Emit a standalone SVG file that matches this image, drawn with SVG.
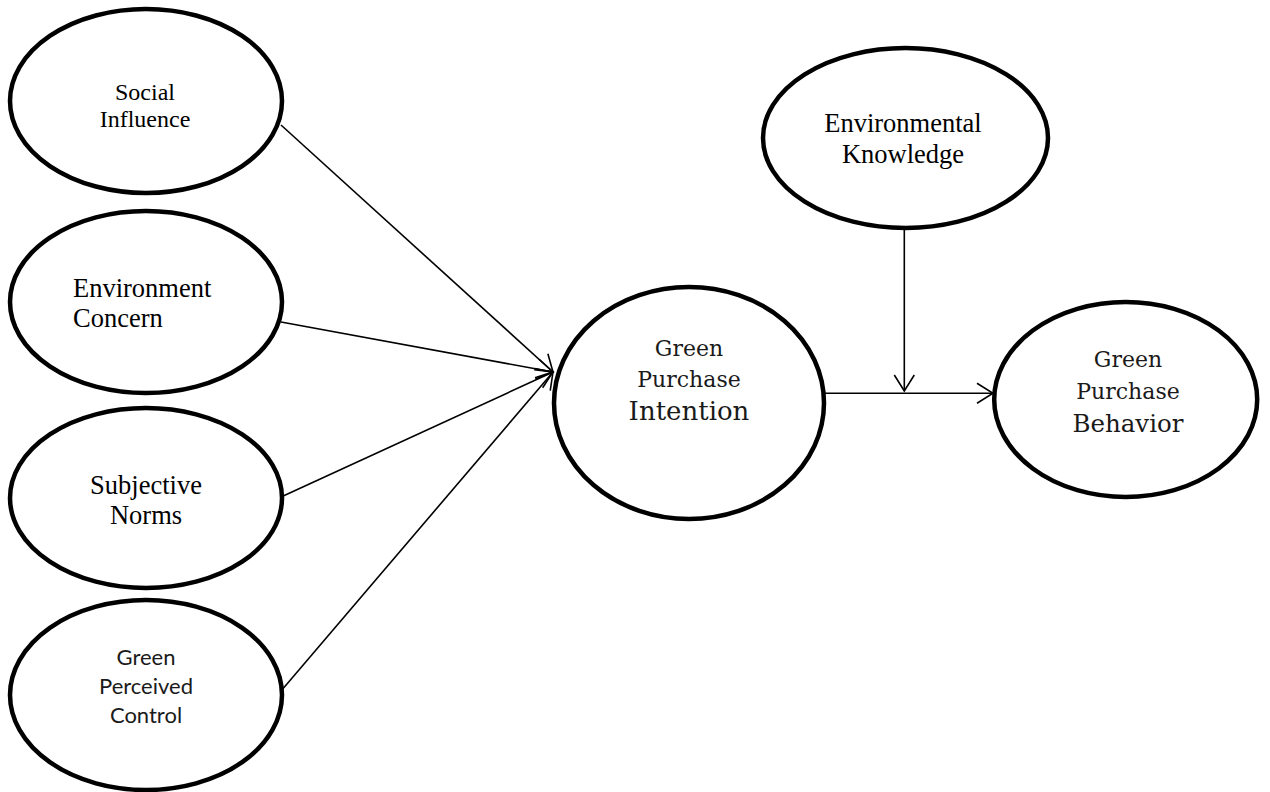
<svg xmlns="http://www.w3.org/2000/svg" width="1270" height="792" viewBox="0 0 1270 792">
<defs>
<marker id="arr" markerUnits="userSpaceOnUse" markerWidth="30" markerHeight="30" viewBox="-20 -15 30 30" refX="0" refY="0" orient="auto">
<path d="M-16,-10 L0,0 L-16,10" fill="none" stroke="#000" stroke-width="1.6"/>
</marker>
<style>
.n{fill:#fff;stroke:#000;stroke-width:4.5}
.c{fill:none;stroke:#000;stroke-width:1.6;marker-end:url(#arr)}
.tr{font-family:"Liberation Serif","Times New Roman",serif;fill:#000}
.cb{font-family:"DejaVu Serif",serif;fill:#1a1a1a}
.ca{font-family:Lato,"Liberation Sans",sans-serif;fill:#1a1a1a}
</style>
</defs>
<rect width="1270" height="792" fill="#fff"/>
<g id="connectors">
<line class="c" x1="281" y1="125" x2="553" y2="372"/>
<line class="c" x1="281" y1="322" x2="553" y2="372"/>
<line class="c" x1="281" y1="497" x2="553" y2="372"/>
<line class="c" x1="281" y1="691" x2="553" y2="372"/>
<line class="c" x1="824" y1="393.3" x2="993" y2="393.3"/>
<line class="c" x1="904.3" y1="228" x2="904.3" y2="391"/>
</g>
<g id="social-influence">
<ellipse class="n" cx="146" cy="101" rx="136" ry="92"/>
<text class="tr" font-size="24" text-anchor="middle"><tspan x="145" y="99.5">Social</tspan><tspan x="145" y="126.5">Influence</tspan></text>
</g>
<g id="environment-concern">
<ellipse class="n" cx="146" cy="302" rx="136" ry="91"/>
<text class="tr" font-size="26.5"><tspan x="73" y="297">Environment</tspan><tspan x="73" y="327">Concern</tspan></text>
</g>
<g id="subjective-norms">
<ellipse class="n" cx="146" cy="498" rx="136" ry="90"/>
<text class="tr" font-size="26.5" text-anchor="middle"><tspan x="146" y="494">Subjective</tspan><tspan x="146" y="524">Norms</tspan></text>
</g>
<g id="green-perceived-control">
<ellipse class="n" cx="146" cy="695" rx="136" ry="95"/>
<text class="ca" font-size="22" text-anchor="middle"><tspan x="146" y="665">Green</tspan><tspan x="146" y="693.5">Perceived</tspan><tspan x="146" y="722.5">Control</tspan></text>
</g>
<g id="environmental-knowledge">
<ellipse class="n" cx="905.5" cy="138" rx="142.5" ry="90"/>
<text class="tr" font-size="26.5" text-anchor="middle"><tspan x="903" y="131.7">Environmental</tspan><tspan x="903" y="163">Knowledge</tspan></text>
</g>
<g id="green-purchase-intention">
<ellipse class="n" cx="689" cy="403" rx="135" ry="116"/>
<text class="cb" text-anchor="middle"><tspan x="689" y="355.7" font-size="22">Green</tspan><tspan x="689" y="386.7" font-size="22">Purchase</tspan><tspan x="689" y="420" font-size="26">Intention</tspan></text>
</g>
<g id="green-purchase-behavior">
<ellipse class="n" cx="1125.7" cy="399.5" rx="131.5" ry="97.5"/>
<text class="cb" text-anchor="middle"><tspan x="1128" y="366.7" font-size="22">Green</tspan><tspan x="1128" y="399" font-size="22">Purchase</tspan><tspan x="1128" y="431.7" font-size="24.5">Behavior</tspan></text>
</g>
</svg>
